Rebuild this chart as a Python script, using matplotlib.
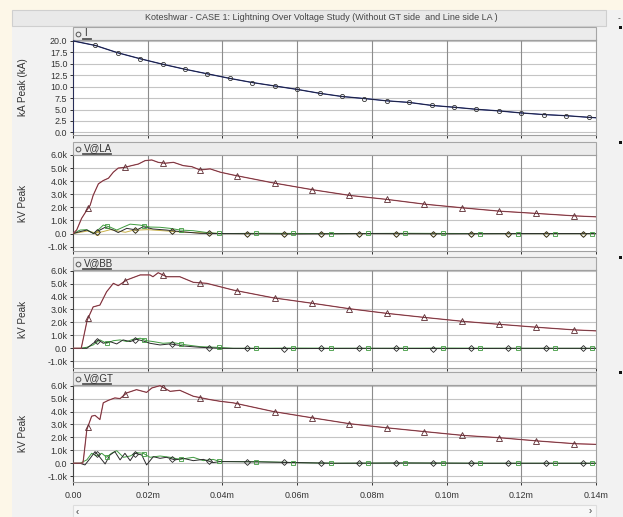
import numpy as np
import matplotlib
matplotlib.use("Agg")
import matplotlib.pyplot as plt
from matplotlib.patches import Rectangle
from matplotlib.lines import Line2D

plt.rcParams['font.family'] = ['Liberation Sans', 'DejaVu Sans']

W, H = 623, 517

title = "Koteshwar - CASE 1: Lightning Over Voltage Study (Without GT side  and Line side LA )"
x_ticks = [0.0, 0.02, 0.04, 0.06, 0.08, 0.10, 0.12, 0.14]
x_tick_labels = ["0.00", "0.02m", "0.04m", "0.06m", "0.08m", "0.10m", "0.12m", "0.14m"]
i_ticks = [0.0, 2.5, 5.0, 7.5, 10.0, 12.5, 15.0, 17.5, 20.0]
i_tick_labels = ["0.0", "2.5", "5.0", "7.5", "10.0", "12.5", "15.0", "17.5", "20.0"]
v_ticks = [-1, 0, 1, 2, 3, 4, 5, 6]
v_tick_labels = ["-1.0k", "0.0", "1.0k", "2.0k", "3.0k", "4.0k", "5.0k", "6.0k"]

# lightning current I (kA)
t_i = [0.0, 0.0, 0.006, 0.012, 0.018, 0.024, 0.030, 0.036, 0.042, 0.048, 0.054, 0.060, 0.066,
       0.072, 0.078, 0.084, 0.090, 0.096, 0.102, 0.108, 0.114, 0.120, 0.126, 0.132, 0.138, 0.14]
i_peak = [0.0, 20.0, 19.0, 17.4, 16.1, 14.9, 13.8, 12.8, 11.8, 10.9, 10.15, 9.4, 8.55,
          7.85, 7.4, 6.9, 6.55, 5.9, 5.5, 5.05, 4.7, 4.25, 3.9, 3.65, 3.3, 3.2]

# V@LA (kV)
t_la = [0.0, 0.001, 0.0023, 0.0037, 0.0046, 0.0054, 0.0068, 0.0081, 0.0095, 0.0108, 0.0121, 0.0139,
        0.0157, 0.0175, 0.0193, 0.0211, 0.0228, 0.0246, 0.0269, 0.0295, 0.0318, 0.034, 0.0367,
        0.0394, 0.0429, 0.0536, 0.0643, 0.0742, 0.084, 0.0943, 0.1045, 0.1143, 0.1245, 0.1344, 0.14]
v_la = [0.0, 0.28, 1.16, 1.79, 2.17, 2.92, 3.8, 4.05, 4.23, 4.69, 5.0, 5.06,
        5.19, 5.31, 5.57, 5.62, 5.44, 5.37, 5.44, 5.19, 5.11, 4.86, 4.94,
        4.69, 4.47, 3.87, 3.34, 2.91, 2.61, 2.24, 1.96, 1.71, 1.53, 1.35, 1.28]
t_la_g = [0.0, 0.0019, 0.0037, 0.0055, 0.0072, 0.0081, 0.0099, 0.0117, 0.0135, 0.0153, 0.0179, 0.0206,
          0.0233, 0.026, 0.0287, 0.0322, 0.0358, 0.0394, 0.05, 0.07, 0.09, 0.11, 0.14]
v_la_g = [0.0, 0.27, 0.3, 0.0, 0.4, 0.65, 0.5, 0.27, 0.5, 0.72, 0.65, 0.5,
          0.48, 0.4, 0.27, 0.22, 0.08, 0.0, 0.02, 0.0, 0.02, 0.0, 0.0]
t_la_b = [0.0, 0.0019, 0.0037, 0.0055, 0.0072, 0.0086, 0.0108, 0.0121, 0.0144, 0.017, 0.0188, 0.0214,
          0.025, 0.0287, 0.034, 0.04, 0.06, 0.08, 0.10, 0.12, 0.14]
v_la_b = [0.0, 0.15, 0.27, 0.0, 0.27, 0.48, 0.27, 0.08, 0.4, 0.27, 0.52, 0.35,
          0.27, 0.15, 0.02, 0.0, -0.03, 0.0, -0.02, 0.0, 0.0]
t_la_y = [0.0, 0.002, 0.004, 0.006, 0.008, 0.010, 0.012, 0.014, 0.016, 0.020, 0.025, 0.030, 0.040, 0.14]
v_la_y = [0.0, 0.1, 0.2, 0.05, 0.15, 0.3, 0.2, 0.1, 0.25, 0.3, 0.2, 0.1, 0.0, 0.0]

# V@BB (kV)
t_bb = [0.0, 0.0022, 0.0038, 0.0054, 0.0072, 0.009, 0.0108, 0.0121, 0.0144, 0.018, 0.0206, 0.0214,
        0.0228, 0.0251, 0.0286, 0.0322, 0.0358, 0.0429, 0.0536, 0.0643, 0.0742, 0.084, 0.0943,
        0.1045, 0.1143, 0.1245, 0.1344, 0.14]
v_bb = [0.0, 0.0, 2.18, 3.2, 3.34, 4.37, 5.02, 4.84, 5.28, 5.67, 5.67, 5.53,
        5.84, 5.53, 5.53, 5.1, 5.02, 4.5, 3.9, 3.47, 3.05, 2.7, 2.38,
        2.08, 1.85, 1.62, 1.42, 1.35]
t_bb_g = [0.0, 0.0019, 0.0037, 0.0054, 0.0072, 0.009, 0.0108, 0.0126, 0.0144, 0.0161, 0.018, 0.0197,
          0.0215, 0.0241, 0.0268, 0.0304, 0.034, 0.0384, 0.0429, 0.06, 0.08, 0.10, 0.12, 0.14]
v_bb_g = [0.0, 0.0, 0.08, 0.26, 0.65, 0.39, 0.59, 0.65, 0.52, 0.7, 0.78, 0.59,
          0.52, 0.39, 0.44, 0.26, 0.13, 0.08, 0.0, 0.02, 0.0, 0.02, 0.0, 0.0]
t_bb_b = [0.0, 0.0037, 0.0054, 0.0068, 0.0081, 0.0099, 0.0117, 0.0134, 0.0153, 0.017, 0.0188, 0.0206,
          0.0233, 0.026, 0.0295, 0.034, 0.0394, 0.06, 0.08, 0.10, 0.12, 0.14]
v_bb_b = [0.0, 0.0, 0.39, 0.65, 0.39, 0.52, 0.34, 0.65, 0.52, 0.7, 0.57, 0.39,
          0.26, 0.34, 0.18, 0.08, 0.0, -0.02, 0.0, -0.02, 0.0, 0.0]

# V@GT (kV)
t_gt = [0.0, 0.0026, 0.0028, 0.0037, 0.005, 0.0059, 0.0072, 0.0081, 0.0095, 0.0112, 0.0126, 0.0144,
        0.017, 0.0197, 0.0211, 0.0233, 0.026, 0.0286, 0.0322, 0.0367, 0.0394, 0.0429, 0.0536,
        0.0643, 0.0742, 0.084, 0.0943, 0.1045, 0.1143, 0.1245, 0.1344, 0.14]
v_gt = [0.0, 0.0, 0.3, 2.6, 3.64, 3.7, 3.38, 4.67, 4.87, 5.05, 5.0, 5.44,
        5.69, 5.48, 5.82, 6.0, 5.56, 5.64, 5.18, 4.92, 4.79, 4.67, 4.0,
        3.5, 3.05, 2.74, 2.44, 2.15, 1.97, 1.72, 1.51, 1.46]
t_gt_b = [0.0, 0.0019, 0.0032, 0.0046, 0.0059, 0.0072, 0.0086, 0.0099, 0.0112, 0.0126, 0.0139, 0.0153,
          0.0166, 0.0184, 0.0197, 0.0215, 0.0233, 0.025, 0.0273, 0.0295, 0.0322, 0.0349, 0.0375,
          0.0394, 0.05, 0.06, 0.07, 0.09, 0.11, 0.14]
v_gt_b = [0.0, 0.0, -0.13, 0.38, 0.9, 0.46, -0.05, 0.64, 0.9, 0.26, 0.77, 0.2,
          0.77, 0.64, -0.13, 0.51, 0.38, 0.46, 0.26, 0.38, 0.2, 0.3, 0.05,
          0.13, 0.1, 0.05, 0.0, 0.02, 0.0, 0.0]
t_gt_g = [0.0, 0.0019, 0.0037, 0.005, 0.0063, 0.0077, 0.009, 0.0103, 0.0117, 0.0135, 0.0153, 0.017,
          0.0188, 0.0206, 0.0233, 0.026, 0.0286, 0.0322, 0.0349, 0.0375, 0.0394, 0.05, 0.06,
          0.07, 0.09, 0.11, 0.14]
v_gt_g = [0.0, 0.0, 0.26, 0.77, 0.56, 0.77, 0.46, 0.77, 0.97, 0.46, 0.56, 0.82,
          0.77, 0.46, 0.56, 0.46, 0.3, 0.46, 0.2, 0.3, 0.13, 0.12, 0.05,
          0.0, 0.02, 0.0, 0.0]

# where the little symbols sit on each trace
mark_main = np.arange(0.004, 0.14, 0.01)
mark_green = np.arange(0.009, 0.14, 0.01)
mark_black = np.arange(0.0065, 0.14, 0.01)


def rect(x0, y0, x1, y1):
    # pixel box -> figure fraction
    return [x0 / W, 1 - y1 / H, (x1 - x0) / W, (y1 - y0) / H]


def fig_rect(x0, y0, x1, y1, fc, ec='none', lw=0.8):
    fig.add_artist(Rectangle((x0 / W, 1 - y1 / H), (x1 - x0) / W, (y1 - y0) / H,
                             transform=fig.transFigure, facecolor=fc, edgecolor=ec,
                             linewidth=lw, zorder=0))


def header(y0, y1, name, ul_w):
    fig_rect(73, y0, 596, y1, '#ececec', '#a6a6a6')
    ym = (y0 + y1) / 2
    fig.add_artist(Line2D([78 / W], [1 - ym / H], marker='o', ms=3.4, mfc='none',
                          mec='#555555', mew=0.7, transform=fig.transFigure))
    fig.text(84 / W, 1 - ym / H, name, fontsize=7, color='#333333', va='center', ha='left')
    fig.add_artist(Line2D([83 / W, (83 + ul_w) / W], [1 - (ym + 5) / H] * 2,
                          color='#555555', lw=1.3, transform=fig.transFigure))
    # small black square on the right edge
    fig_rect(619, y0 - 1, 622, y0 + 2, '#111111')


def style_axes(ax, yt, ytl, ylim, bottom=False):
    ax.set_facecolor('white')
    ax.set_xlim(0, 0.14)
    ax.set_ylim(*ylim)
    ax.set_yticks(yt)
    ax.set_yticklabels(ytl)
    ax.set_xticks(x_ticks)
    for y in yt:
        ax.axhline(y, color='#c4c4c4', lw=0.8, zorder=0)
    for x in x_ticks[1:-1]:
        ax.axvline(x, color='#8c8c8c', lw=0.8, zorder=0)
    if bottom:
        ax.set_xticklabels(x_tick_labels)
    else:
        ax.set_xticklabels([])
    ax.tick_params(axis='y', length=2.2, width=0.7, pad=1.8, labelsize=6.4, colors='#333333')
    ax.tick_params(axis='x', length=2.2, width=0.7, pad=4.2, labelsize=6.4, colors='#333333')
    for s in ['top', 'right', 'bottom']:
        ax.spines[s].set_color('#a0a0a0')
        ax.spines[s].set_linewidth(0.8)
    ax.spines['left'].set_color('#444444')
    ax.spines['left'].set_linewidth(0.8)


def voltage_panel(ax, t, v, lows):
    for tl, vl, col, mk in lows:
        ax.plot(tl, vl, color=col, lw=0.7, zorder=3)
        mt = mark_green if mk == 's' else mark_black
        ax.plot(mt, np.interp(mt, tl, vl), ls='none', marker=mk, ms=3, mfc='none',
                mec=col, mew=0.6, zorder=4)
    ax.plot(t, v, color='#d05a6a', lw=0.9, zorder=3)
    ax.plot(t, v, color='#222222', lw=0.45, alpha=0.75, zorder=3)
    ax.plot(mark_main, np.interp(mark_main, t, v), ls='none', marker='^', ms=4,
            mfc='none', mec='#5a2a30', mew=0.6, zorder=4)


fig = plt.figure(figsize=(W / 100, H / 100), dpi=100, facecolor='#fdf7e8')
fig_rect(12, 10, W, H, '#f2f2f2')
# title bar
fig_rect(12, 10, 606, 26, '#e9e9e9', '#cfcfcf')
fig.text(321 / W, 1 - 17.5 / H, title, fontsize=6.5, color='#444444', ha='center', va='center')
fig.text(619 / W, 1 - 19 / H, '-', fontsize=6, color='#333333', ha='center', va='center')

# panel 1: current
header(27, 40, 'I', 8)
ax1 = fig.add_axes(rect(73, 40, 596, 135))
style_axes(ax1, i_ticks, i_tick_labels, (-0.57, 20.2))
ax1.plot(t_i, i_peak, color='#1c2a8c', lw=0.9, zorder=3)
ax1.plot(t_i, i_peak, color='#222222', lw=0.45, zorder=3)
ax1.plot(t_i[2:-1], i_peak[2:-1], ls='none', marker='o', ms=3, mfc='none', mec='#333333',
         mew=0.6, zorder=4)
fig.text(23 / W, 1 - 87 / H, 'kA Peak (kA)', rotation=90, fontsize=7.2, color='#333333',
         ha='center', va='center')

# panel 2: V@LA
header(142, 155, 'V@LA', 28)
ax2 = fig.add_axes(rect(73, 155, 596, 251))
style_axes(ax2, v_ticks, v_tick_labels, (-1.33, 6.0))
voltage_panel(ax2, t_la, v_la, [(t_la_y, v_la_y, '#c8b048', 'o'),
                                (t_la_g, v_la_g, '#3f9a3f', 's'),
                                (t_la_b, v_la_b, '#2a2a2a', 'D')])
fig.text(23 / W, 1 - 203 / H, 'kV Peak', rotation=90, fontsize=7.2, color='#333333',
         ha='center', va='center')

# panel 3: V@BB
header(257, 270, 'V@BB', 28)
ax3 = fig.add_axes(rect(73, 270, 596, 368))
style_axes(ax3, v_ticks, v_tick_labels, (-1.52, 6.05))
voltage_panel(ax3, t_bb, v_bb, [(t_bb_g, v_bb_g, '#3f9a3f', 's'),
                                (t_bb_b, v_bb_b, '#2a2a2a', 'D')])
fig.text(23 / W, 1 - 319 / H, 'kV Peak', rotation=90, fontsize=7.2, color='#333333',
         ha='center', va='center')

# panel 4: V@GT
header(372, 385, 'V@GT', 28)
ax4 = fig.add_axes(rect(73, 385, 596, 482))
style_axes(ax4, v_ticks, v_tick_labels, (-1.45, 6.05), bottom=True)
voltage_panel(ax4, t_gt, v_gt, [(t_gt_g, v_gt_g, '#3f9a3f', 's'),
                                (t_gt_b, v_gt_b, '#2a2a2a', 'D')])
fig.text(23 / W, 1 - 433 / H, 'kV Peak', rotation=90, fontsize=7.2, color='#333333',
         ha='center', va='center')

# scroll bar along the bottom
fig_rect(73, 505, 596, 517, '#f7f7f7', '#dddddd')
fig.text(77 / W, 1 - 512 / H, '\u2039', fontsize=7, color='#333333', ha='center', va='center')
fig.text(590 / W, 1 - 511 / H, '\u203a', fontsize=7, color='#333333', ha='center', va='center')

fig.savefig('out.png', dpi=100, facecolor=fig.get_facecolor())
